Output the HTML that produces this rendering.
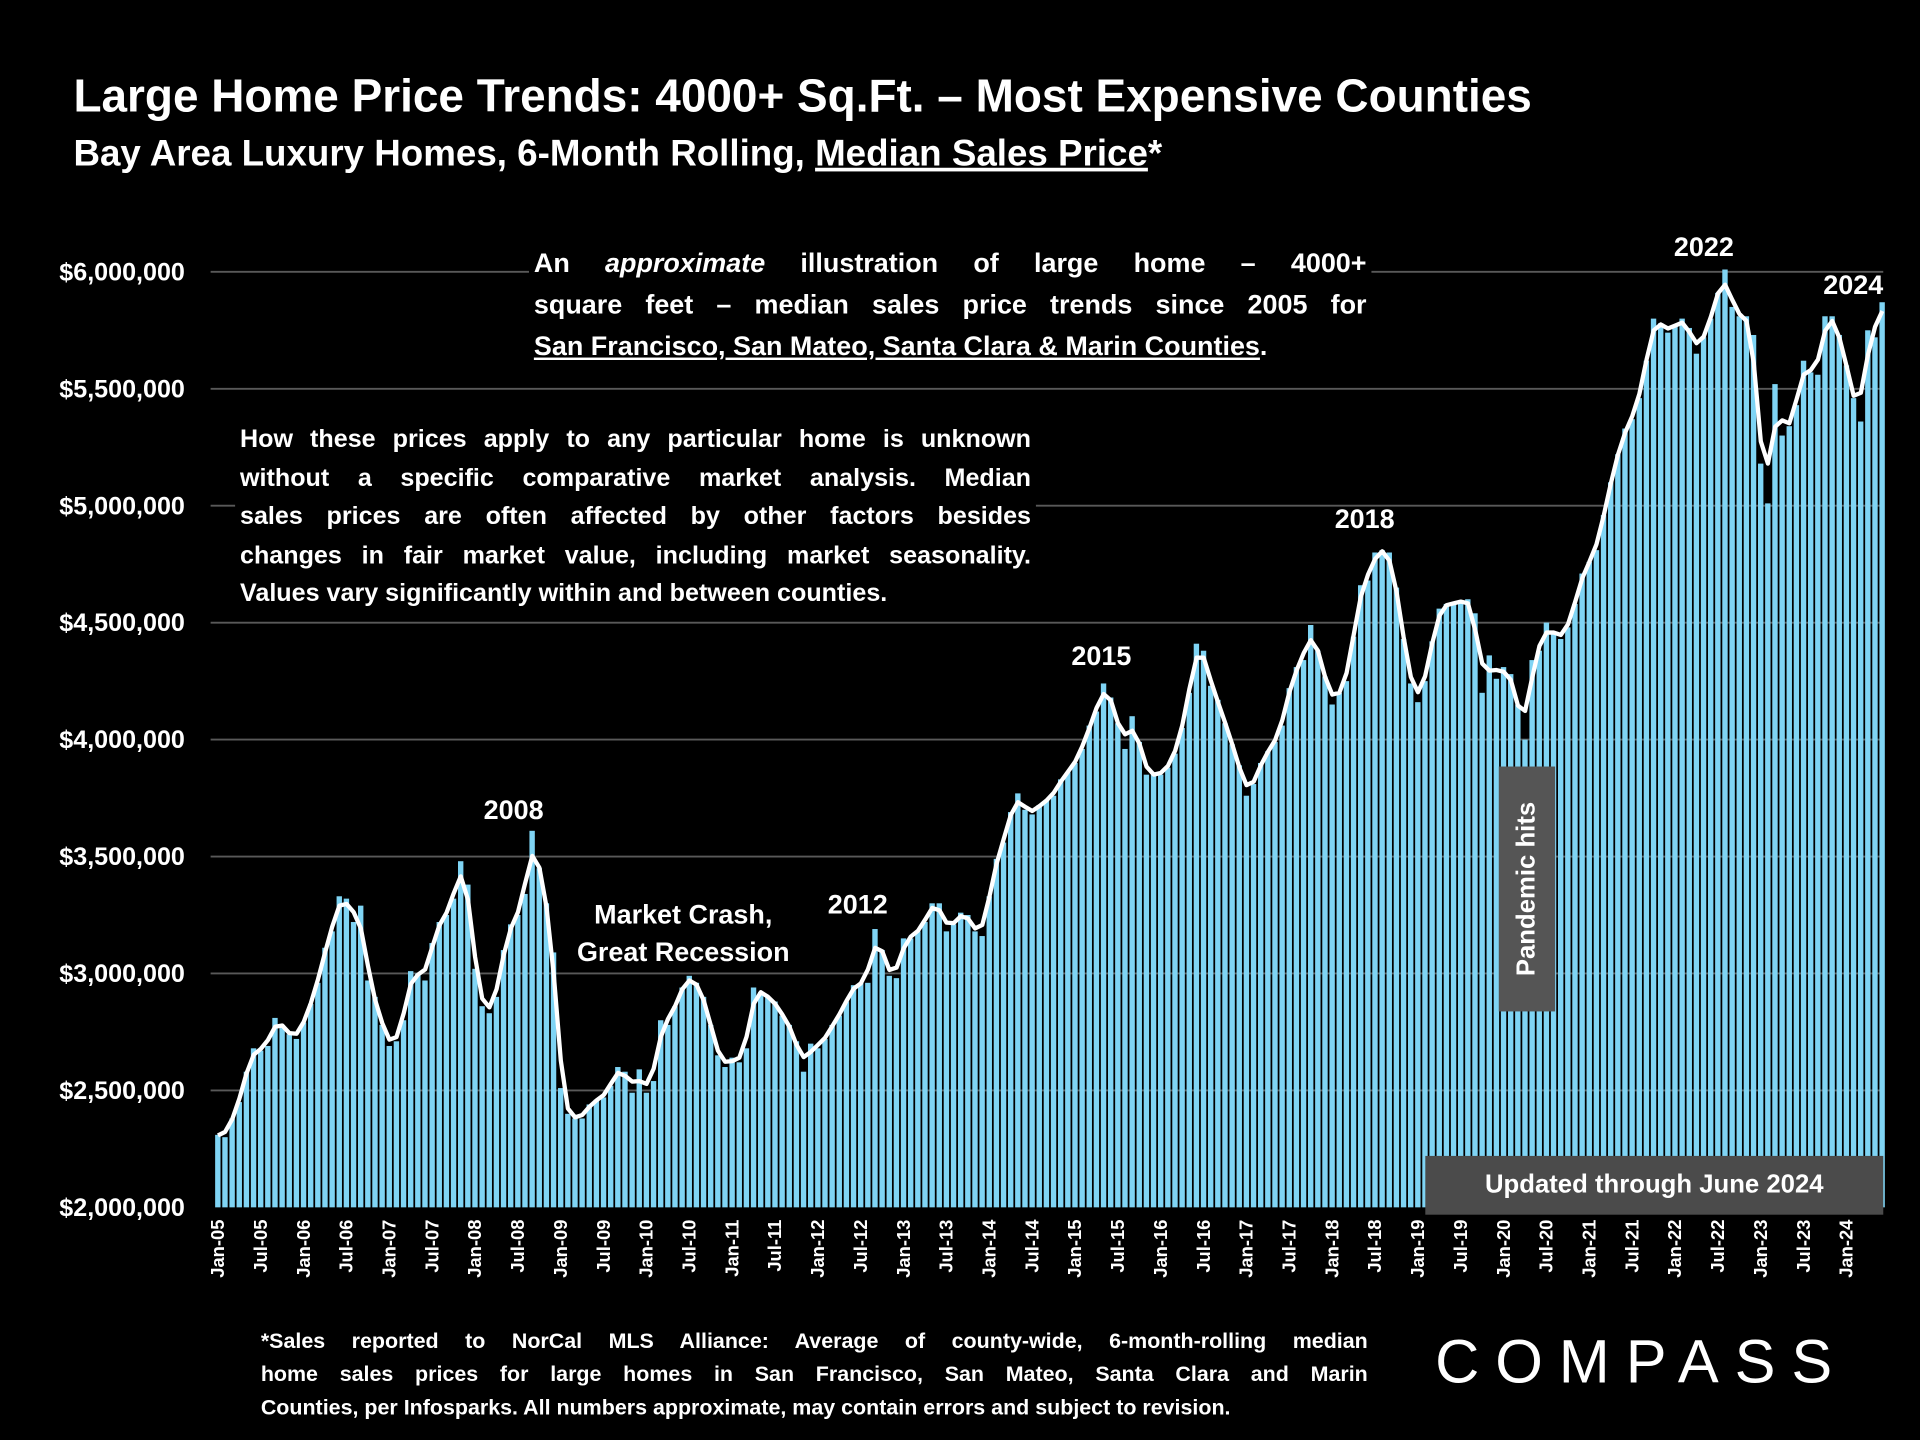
<!DOCTYPE html>
<html><head><meta charset="utf-8">
<style>
html,body{margin:0;padding:0;background:#000;}
#root{position:absolute;left:0;top:0;width:1568px;height:1176px;transform:scale(1.2244898);transform-origin:0 0;background:#000;font-family:"Liberation Sans",sans-serif;color:#fff;overflow:hidden;}
.t{position:absolute;font-weight:bold;white-space:nowrap;}
.box{position:absolute;background:#000;font-weight:bold;}
.box div{text-align:justify;text-align-last:justify;white-space:nowrap;}
.box div.last{text-align-last:left;}
</style></head><body>
<div id="root">
<svg id="chart" width="1568" height="1176" style="position:absolute;left:0;top:0"></svg>
<div class="t" style="left:60px;top:57px;font-size:37.5px;">Large Home Price Trends: 4000+ Sq.Ft. – Most Expensive Counties</div>
<div class="t" style="left:60px;top:109px;font-size:30px;">Bay Area Luxury Homes, 6-Month Rolling, <u>Median Sales Price</u>*</div>
<div class="box" style="left:432px;top:198px;width:680px;font-size:22px;line-height:34px;padding:0 4px;">
<div>An <i>approximate</i> illustration of large home – 4000+</div>
<div>square feet – median sales price trends since 2005 for</div>
<div class="last"><u>San Francisco, San Mateo, Santa Clara &amp; Marin Counties</u>.</div></div>
<div class="box" style="left:192px;top:343px;width:646px;font-size:20.5px;line-height:31.5px;padding:0 4px;">
<div>How these prices apply to any particular home is unknown</div>
<div>without a specific comparative market analysis. Median</div>
<div>sales prices are often affected by other factors besides</div>
<div>changes in fair market value, including market seasonality.</div>
<div class="last">Values vary significantly within and between counties.</div></div>
<div class="t" style="left:395px;top:649px;font-size:22px;">2008</div>
<div class="t" style="left:458px;top:731px;font-size:22px;text-align:center;width:200px;line-height:31px;">Market Crash,<br>Great Recession</div>
<div class="t" style="left:676px;top:726px;font-size:22px;">2012</div>
<div class="t" style="left:875px;top:523px;font-size:22px;">2015</div>
<div class="t" style="left:1090px;top:411px;font-size:22px;">2018</div>
<div class="t" style="left:1367px;top:189px;font-size:22px;">2022</div>
<div class="t" style="left:1489px;top:220px;font-size:22px;">2024</div>
<div style="position:absolute;left:1224px;top:626px;width:46px;height:200px;background:#555;"><div style="position:absolute;left:23px;top:100px;transform:translate(-50%,-50%) rotate(-90deg);font-weight:bold;font-size:21px;white-space:nowrap;">Pandemic hits</div></div>
<div style="position:absolute;left:1164px;top:944px;width:374px;height:48px;background:#4b4b4b;font-weight:bold;font-size:21px;line-height:48px;text-align:center;">Updated through June 2024</div>
<div class="box" style="left:213px;top:1082px;width:904px;font-size:17.5px;line-height:27px;">
<div>*Sales reported to NorCal MLS Alliance: Average of county-wide, 6-month-rolling median</div>
<div>home sales prices for large homes in San Francisco, San Mateo, Santa Clara and Marin</div>
<div class="last">Counties, per Infosparks. All numbers approximate, may contain errors and subject to revision.</div></div>
<div class="t" style="left:1172px;top:1083px;font-size:50px;font-weight:normal;letter-spacing:13px;">COMPASS</div>
</div>
<script>
const vals=[
2310,2300,2380,2450,2580,2680,2670,2690,2810,2780,2740,2720,
2790,2870,2960,3110,3180,3330,3320,3220,3290,2970,2900,2780,
2690,2710,2800,3010,3000,2970,3130,3220,3250,3320,3480,3380,
3020,2860,2830,2900,3100,3210,3250,3340,3610,3450,3300,3090,
2510,2400,2380,2380,2440,2460,2470,2520,2600,2580,2490,2590,
2490,2540,2800,2780,2860,2940,2990,2960,2900,2780,2650,2600,
2640,2620,2680,2940,2920,2900,2880,2820,2780,2710,2580,2700,
2680,2720,2780,2820,2880,2950,2960,2960,3190,3100,2990,2980,
3150,3150,3180,3220,3300,3300,3180,3210,3260,3250,3180,3160,
3330,3490,3560,3690,3770,3700,3680,3720,3740,3760,3830,3860,
3900,3960,4060,4120,4240,4180,4070,3960,4100,3990,3850,3850,
3850,3880,3940,4050,4200,4410,4380,4230,4170,4070,3980,3890,
3760,3810,3900,3950,3990,4060,4220,4310,4340,4490,4380,4270,
4150,4200,4250,4440,4660,4680,4800,4810,4800,4650,4430,4240,
4160,4250,4420,4560,4580,4580,4590,4600,4540,4200,4360,4260,
4310,4280,4150,4000,4340,4380,4500,4450,4430,4480,4580,4710,
4760,4810,4960,5100,5220,5330,5370,5460,5620,5800,5780,5740,
5770,5800,5760,5650,5720,5800,5910,6010,5850,5810,5810,5730,
5180,5010,5520,5300,5340,5430,5620,5570,5560,5810,5810,5730,
5600,5460,5360,5750,5720,5870];
const yTicks=[2000,2500,3000,3500,4000,4500,5000,5500,6000];
const yTickLabels=["$2,000,000","$2,500,000","$3,000,000","$3,500,000","$4,000,000","$4,500,000","$5,000,000","$5,500,000","$6,000,000"];
const monthNames=["Jan","Jul"];
const startYear=2005;
const NS="http://www.w3.org/2000/svg";
const svg=document.getElementById('chart');
const X0=178, DX=(1508-178)/228, Y0=986, YT=222;
function xs(i){return X0+i*DX;}
function ys(v){return Y0-(v-2000)*(Y0-YT)/4000;}
function mk(tag,attrs){const e=document.createElementNS(NS,tag);for(const k in attrs)e.setAttribute(k,attrs[k]);svg.appendChild(e);return e;}
yTicks.forEach((t,i)=>{
 if(i>0){const l=mk('line',{x1:172,x2:1538,y1:ys(t),y2:ys(t),stroke:'#595959','stroke-width':1.5});
 
 }
 const tx=mk('text',{x:151,y:ys(t)+7,'text-anchor':'end',fill:'#fff','font-size':20.5,'font-weight':'bold','font-family':'Liberation Sans, sans-serif'});
 tx.textContent=yTickLabels[i];
 
 
});
vals.forEach((v,i)=>{
 const r=mk('rect',{x:xs(i)-2.3,y:ys(v),width:4.4,height:Y0-ys(v),fill:'#7fd4f4'});
 
 
});
const pts=vals.map((v,i)=>{const a=vals[Math.max(0,i-1)],c=vals[Math.min(vals.length-1,i+1)];return xs(i).toFixed(1)+','+ys((a+2*v+c)/4).toFixed(1);});
const pl=mk('polyline',{points:pts.join(' '),fill:'none',stroke:'#fff','stroke-width':3.5,'stroke-linejoin':'round'});


for(let i=0;i<vals.length;i+=6){
 const yr=startYear+Math.floor(i/12);
 const lab=monthNames[(i%12)/6]+'-'+String(yr%100).padStart(2,'0');
 const x=xs(i)+5;
 const tx=mk('text',{x:x,y:996,transform:`rotate(-90 ${x} 996)`,'text-anchor':'end',fill:'#fff','font-size':15,'font-weight':'bold','font-family':'Liberation Sans, sans-serif'});
 tx.textContent=lab;
 
 
}
</script>
</body></html>
